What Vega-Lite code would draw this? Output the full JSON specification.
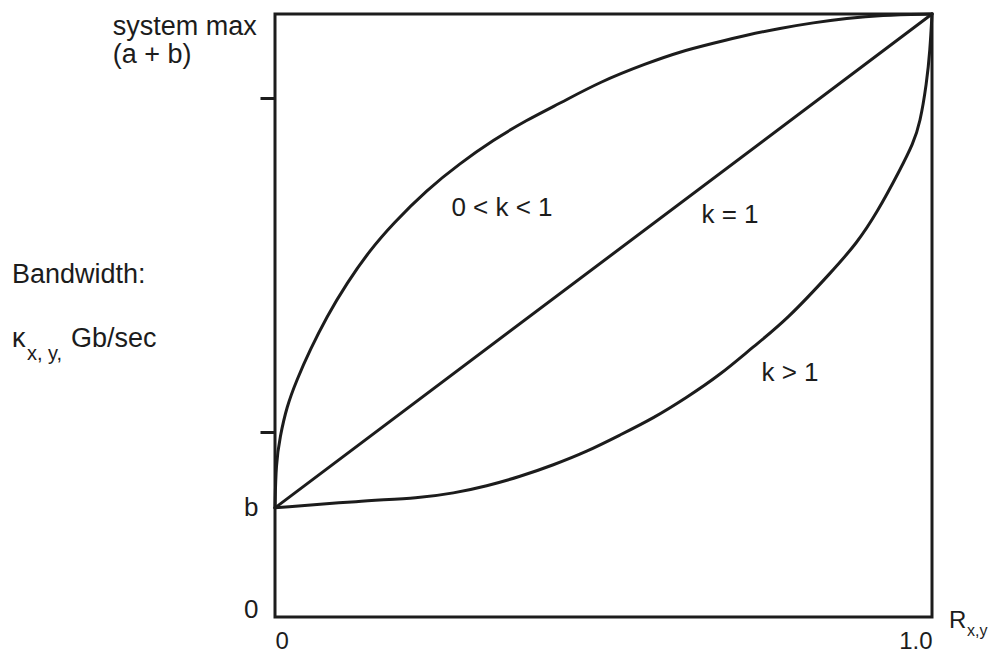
{
  "$schema": "https://vega.github.io/schema/vega-lite/v6.json",
  "width": 657,
  "height": 603,
  "autosize": {"type": "none"},
  "padding": {"left": 275, "top": 14, "right": 66, "bottom": 40},
  "background": "white",
  "config": {
    "view": {"stroke": "#1c1c1c", "strokeWidth": 3},
    "font": "Liberation Sans"
  },
  "datasets": {
    "curves": [
      {"curve": "0 < k < 1", "R": 0, "kappa": 0.181},
      {"curve": "0 < k < 1", "R": 0.0015, "kappa": 0.255},
      {"curve": "0 < k < 1", "R": 0.0076, "kappa": 0.2985},
      {"curve": "0 < k < 1", "R": 0.0178, "kappa": 0.3488},
      {"curve": "0 < k < 1", "R": 0.033, "kappa": 0.393},
      {"curve": "0 < k < 1", "R": 0.0533, "kappa": 0.4428},
      {"curve": "0 < k < 1", "R": 0.0787, "kappa": 0.498},
      {"curve": "0 < k < 1", "R": 0.1091, "kappa": 0.5534},
      {"curve": "0 < k < 1", "R": 0.1446, "kappa": 0.6086},
      {"curve": "0 < k < 1", "R": 0.18, "kappa": 0.6529},
      {"curve": "0 < k < 1", "R": 0.2309, "kappa": 0.7081},
      {"curve": "0 < k < 1", "R": 0.2816, "kappa": 0.7524},
      {"curve": "0 < k < 1", "R": 0.3323, "kappa": 0.791},
      {"curve": "0 < k < 1", "R": 0.3831, "kappa": 0.8242},
      {"curve": "0 < k < 1", "R": 0.4338, "kappa": 0.8519},
      {"curve": "0 < k < 1", "R": 0.4947, "kappa": 0.8877},
      {"curve": "0 < k < 1", "R": 0.5658, "kappa": 0.9182},
      {"curve": "0 < k < 1", "R": 0.6164, "kappa": 0.9375},
      {"curve": "0 < k < 1", "R": 0.6671, "kappa": 0.9514},
      {"curve": "0 < k < 1", "R": 0.718, "kappa": 0.9652},
      {"curve": "0 < k < 1", "R": 0.7686, "kappa": 0.9763},
      {"curve": "0 < k < 1", "R": 0.8193, "kappa": 0.9856},
      {"curve": "0 < k < 1", "R": 0.8702, "kappa": 0.9929},
      {"curve": "0 < k < 1", "R": 0.9209, "kappa": 0.9983},
      {"curve": "0 < k < 1", "R": 1, "kappa": 1},
      {"curve": "k = 1", "R": 0, "kappa": 0.181},
      {"curve": "k = 1", "R": 1, "kappa": 1},
      {"curve": "k > 1", "R": 0, "kappa": 0.181},
      {"curve": "k > 1", "R": 0.1294, "kappa": 0.1924},
      {"curve": "k > 1", "R": 0.2207, "kappa": 0.1973},
      {"curve": "k > 1", "R": 0.2714, "kappa": 0.2051},
      {"curve": "k > 1", "R": 0.3222, "kappa": 0.2172},
      {"curve": "k > 1", "R": 0.3729, "kappa": 0.2327},
      {"curve": "k > 1", "R": 0.4236, "kappa": 0.2521},
      {"curve": "k > 1", "R": 0.4744, "kappa": 0.2741},
      {"curve": "k > 1", "R": 0.5251, "kappa": 0.3018},
      {"curve": "k > 1", "R": 0.5758, "kappa": 0.3295},
      {"curve": "k > 1", "R": 0.6266, "kappa": 0.364},
      {"curve": "k > 1", "R": 0.6773, "kappa": 0.4013},
      {"curve": "k > 1", "R": 0.728, "kappa": 0.4483},
      {"curve": "k > 1", "R": 0.7788, "kappa": 0.4925},
      {"curve": "k > 1", "R": 0.8498, "kappa": 0.5755},
      {"curve": "k > 1", "R": 0.8854, "kappa": 0.6197},
      {"curve": "k > 1", "R": 0.9158, "kappa": 0.6695},
      {"curve": "k > 1", "R": 0.9513, "kappa": 0.7413},
      {"curve": "k > 1", "R": 0.9715, "kappa": 0.7856},
      {"curve": "k > 1", "R": 0.9817, "kappa": 0.8187},
      {"curve": "k > 1", "R": 0.9919, "kappa": 0.8851},
      {"curve": "k > 1", "R": 0.997, "kappa": 0.9403},
      {"curve": "k > 1", "R": 1, "kappa": 1}
    ],
    "curveLabels": [
      {"label": "0 < k < 1", "R": 0.3455, "kappa": 0.665},
      {"label": "k = 1", "R": 0.6925, "kappa": 0.6534},
      {"label": "k > 1", "R": 0.7839, "kappa": 0.392}
    ],
    "notes": [
      {"label": "system max", "R": -0.247, "kappa": 0.9652},
      {"label": "(a + b)", "R": -0.247, "kappa": 0.9187},
      {"label": "Bandwidth:", "R": -0.4003, "kappa": 0.5539},
      {"label": "κ", "R": -0.4003, "kappa": 0.4478},
      {"label": "Gb/sec", "R": -0.3105, "kappa": 0.4478}
    ],
    "noteSubscripts": [
      {"label": "x, y,", "R": -0.3775, "kappa": 0.4262}
    ],
    "xTitle": [
      {"label": "R", "R": 1.0259, "kappa": -0.0182}
    ],
    "xTitleSubscript": [
      {"label": "x,y", "R": 1.0533, "kappa": -0.0315}
    ]
  },
  "encoding": {
    "x": {
      "field": "R",
      "type": "quantitative",
      "scale": {"domain": [0, 1], "nice": false, "zero": false},
      "axis": {
        "title": null,
        "values": [0, 1],
        "labelExpr": "datum.value == 1 ? '1.0' : '0'",
        "domain": false,
        "grid": false,
        "ticks": false,
        "tickSize": 0,
        "labelPadding": 12,
        "labelFlush": true,
        "labelOverlap": false,
        "labelFont": "Liberation Sans",
        "labelFontSize": 24,
        "labelColor": "#1c1c1c"
      }
    },
    "y": {
      "field": "kappa",
      "type": "quantitative",
      "scale": {"domain": [0, 1], "nice": false, "zero": false},
      "axis": {
        "title": null,
        "values": [0, 0.181, 0.306, 0.86],
        "labelExpr": "datum.value == 0 ? '0' : (datum.value == 0.181 ? 'b' : '')",
        "domain": false,
        "grid": false,
        "tickSize": 15,
        "tickWidth": 3,
        "tickColor": "#1c1c1c",
        "tickOpacity": {"condition": {"test": "datum.value > 0.25", "value": 1}, "value": 0},
        "labelPadding": 2,
        "labelFlush": false,
        "labelOverlap": false,
        "labelBaseline": {"condition": {"test": "datum.value == 0", "value": "alphabetic"}, "value": "middle"},
        "labelFont": "Liberation Sans",
        "labelFontSize": 26,
        "labelColor": "#1c1c1c"
      }
    }
  },
  "layer": [
    {
      "data": {"name": "curves"},
      "mark": {"type": "line", "strokeWidth": 3, "color": "#1c1c1c", "interpolate": "basis", "strokeCap": "round"},
      "encoding": {"detail": {"field": "curve"}}
    },
    {
      "data": {"name": "curveLabels"},
      "mark": {"type": "text", "align": "center", "baseline": "alphabetic", "fontSize": 26, "color": "#1c1c1c"},
      "encoding": {"text": {"field": "label"}}
    },
    {
      "data": {"name": "notes"},
      "mark": {"type": "text", "align": "left", "baseline": "alphabetic", "fontSize": 27, "color": "#1c1c1c"},
      "encoding": {"text": {"field": "label"}}
    },
    {
      "data": {"name": "noteSubscripts"},
      "mark": {"type": "text", "align": "left", "baseline": "alphabetic", "fontSize": 20, "color": "#1c1c1c"},
      "encoding": {"text": {"field": "label"}}
    },
    {
      "data": {"name": "xTitle"},
      "mark": {"type": "text", "align": "left", "baseline": "alphabetic", "fontSize": 24, "color": "#1c1c1c"},
      "encoding": {"text": {"field": "label"}}
    },
    {
      "data": {"name": "xTitleSubscript"},
      "mark": {"type": "text", "align": "left", "baseline": "alphabetic", "fontSize": 16, "color": "#1c1c1c"},
      "encoding": {"text": {"field": "label"}}
    }
  ]
}
